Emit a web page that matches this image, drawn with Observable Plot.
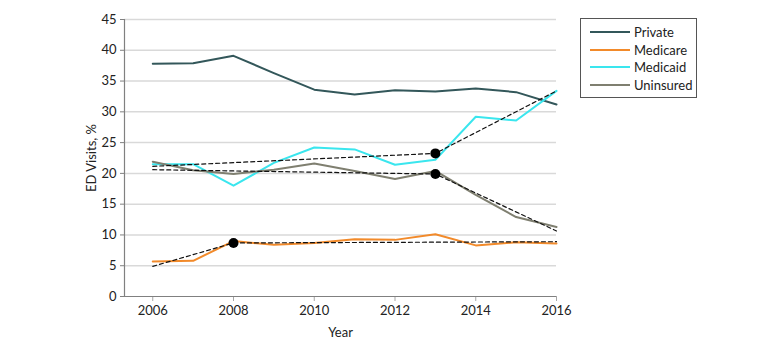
<!DOCTYPE html>
<html>
<head>
<meta charset="utf-8">
<script src="https://cdn.jsdelivr.net/npm/d3@7"></script>
<script src="https://cdn.jsdelivr.net/npm/@observablehq/plot@0.6"></script>
<style>
  html, body { margin: 0; padding: 0; background: #fff; }
  #wrap { position: relative; width: 780px; height: 351px; font-family: Lato, "Open Sans", sans-serif; }
  #legend { position: absolute; left: 580px; top: 18px; width: 117px; height: 80px; border: 1px solid #555; box-sizing: border-box; background: #fff; padding-top: 4px; }
  .row { display: flex; align-items: center; height: 17.8px; font-size: 13px; color: #222; }
  .sw { width: 40px; height: 2px; margin-left: 9px; margin-right: 4px; }
</style>
</head>
<body>
<div id="wrap"><div id="chart"></div><div id="legend"></div></div>
<script>
const years = [2006, 2007, 2008, 2009, 2010, 2011, 2012, 2013, 2014, 2015, 2016];
const seriesNames = ["Private", "Medicare", "Medicaid", "Uninsured"];
const seriesColors = ["#33575a", "#f28a2a", "#3ae6ee", "#7f7f70"];
const privateVals   = [37.8, 37.9, 39.1, 36.3, 33.6, 32.8, 33.5, 33.3, 33.8, 33.2, 31.2];
const medicareVals  = [5.7, 5.8, 9.0, 8.4, 8.7, 9.3, 9.2, 10.1, 8.3, 8.8, 8.6];
const medicaidVals  = [21.5, 21.5, 18.0, 21.7, 24.2, 23.9, 21.4, 22.2, 29.2, 28.6, 33.4];
const uninsuredVals = [21.9, 20.5, 19.9, 20.6, 21.6, 20.4, 19.1, 20.4, 16.5, 12.9, 11.3];

// Joinpoint trend segments (dashed)
const trendMedicareYears = [2006, 2008, 2016];
const trendMedicareVals  = [4.9, 8.7, 8.9];
const trendMedicaidYears = [2006, 2013, 2016];
const trendMedicaidVals  = [21.15, 23.25, 33.4];
const trendUninsuredYears = [2006, 2013, 2016];
const trendUninsuredVals  = [20.6, 19.9, 10.65];

// Joinpoints
const jpYears = [2008, 2013, 2013];
const jpVals  = [8.7, 23.25, 19.9];

const yTicks = [0, 5, 10, 15, 20, 25, 30, 35, 40, 45];
const xTicks = [2006, 2008, 2010, 2012, 2014, 2016];

const allSeries = [privateVals, medicareVals, medicaidVals, uninsuredVals];
const lineData = [];
seriesNames.forEach((name, i) => years.forEach((yr, j) => lineData.push({series: name, year: yr, value: allSeries[i][j]})));

const trendData = [];
[["Medicare", trendMedicareYears, trendMedicareVals],
 ["Medicaid", trendMedicaidYears, trendMedicaidVals],
 ["Uninsured", trendUninsuredYears, trendUninsuredVals]].forEach(([name, ys, vs]) =>
  ys.forEach((yr, j) => trendData.push({series: name, year: yr, value: vs[j]})));

const jpData = jpYears.map((yr, i) => ({year: yr, value: jpVals[i]}));

const chart = Plot.plot({
  width: 780,
  height: 351,
  marginLeft: 124,
  marginRight: 224,
  marginTop: 19,
  marginBottom: 55,
  style: {fontFamily: "Lato, 'Open Sans', sans-serif", fontSize: "13px", color: "#222", background: "#fff"},
  x: {domain: [2005.3, 2016]},
  y: {domain: [0, 45]},
  color: {domain: seriesNames, range: seriesColors},
  marks: [
    Plot.gridY(yTicks.filter(d => d > 0), {stroke: "#d9d9d9", strokeOpacity: 1, strokeWidth: 1.5}),
    Plot.axisY({ticks: yTicks, tickSize: 4, tickPadding: 4, stroke: "#808080", label: "ED Visits, %", labelAnchor: "center", labelArrow: "none", labelOffset: 38, fill: "#222"}),
    Plot.axisX({ticks: xTicks, tickSize: 5, tickPadding: 4, stroke: "#a6a6a6", tickFormat: d => String(d), label: "Year", labelAnchor: "center", labelArrow: "none", labelOffset: 40, fill: "#222"}),
    Plot.ruleY([0], {stroke: "#808080", strokeWidth: 1.2}),
    Plot.ruleX([2005.3], {stroke: "#808080", strokeWidth: 1.2}),
    Plot.line(lineData, {x: "year", y: "value", z: "series", stroke: "series", strokeWidth: 2}),
    Plot.line(trendData, {x: "year", y: "value", z: "series", stroke: "#111", strokeWidth: 1.2, strokeDasharray: "4,3"}),
    Plot.dot(jpData, {x: "year", y: "value", r: 5, fill: "#000", stroke: "none"})
  ]
});
document.getElementById("chart").appendChild(chart);

const legend = document.getElementById("legend");
seriesNames.forEach((name, i) => {
  const row = document.createElement("div");
  row.className = "row";
  const sw = document.createElement("div");
  sw.className = "sw";
  sw.style.background = seriesColors[i];
  const t = document.createElement("span");
  t.textContent = name;
  row.appendChild(sw); row.appendChild(t);
  legend.appendChild(row);
});
</script>
</body>
</html>
